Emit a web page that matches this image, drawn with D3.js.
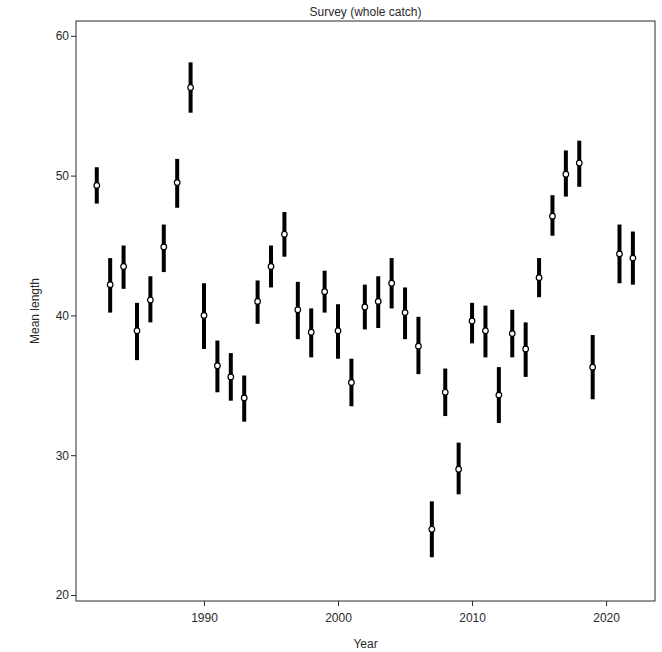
<!DOCTYPE html>
<html>
<head>
<meta charset="utf-8">
<script src="https://cdn.jsdelivr.net/npm/d3@7"></script>
<style>
  body { margin: 0; background: #fff; }
  text { font-family: "Liberation Sans", Arial, sans-serif; }
</style>
</head>
<body>
<script>
// survey mean length per year, with interval
const years = [1982,1983,1984,1985,1986,1987,1988,1989,1990,1991,1992,1993,1994,1995,1996,1997,1998,1999,2000,2001,2002,2003,2004,2005,2006,2007,2008,2009,2010,2011,2012,2013,2014,2015,2016,2017,2018,2019,2021,2022];
const means = [49.3,42.2,43.5,38.9,41.1,44.9,49.5,56.3,40.0,36.4,35.6,34.1,41.0,43.5,45.8,40.4,38.8,41.7,38.9,35.2,40.6,41.0,42.3,40.2,37.8,24.7,34.5,29.0,39.6,38.9,34.3,38.7,37.6,42.7,47.1,50.1,50.9,36.3,44.4,44.1];
const lows  = [48.0,40.2,41.9,36.8,39.5,43.1,47.7,54.5,37.6,34.5,33.9,32.4,39.4,42.0,44.2,38.3,37.0,40.2,36.9,33.5,39.0,39.1,40.5,38.3,35.8,22.7,32.8,27.2,38.0,37.0,32.3,37.0,35.6,41.3,45.7,48.5,49.2,34.0,42.3,42.2];
const highs = [50.6,44.1,45.0,40.9,42.8,46.5,51.2,58.1,42.3,38.2,37.3,35.7,42.5,45.0,47.4,42.4,40.5,43.2,40.8,36.9,42.2,42.8,44.1,42.0,39.9,26.7,36.2,30.9,40.9,40.7,36.3,40.4,39.5,44.1,48.6,51.8,52.5,38.6,46.5,46.0];
const yTicks = [20,30,40,50,60];
const xTicks = [1990,2000,2010,2020];

const WIDTH = 662, HEIGHT = 652;
const LEFT = 76, RIGHT = 655, TOP = 21, BOTTOM = 601;
const INK = "#2a2a2a";

const data = years.map((y, i) => ({year: y, mean: means[i], lo: lows[i], hi: highs[i]}));

const svg = d3.select("body").append("svg")
  .attr("width", WIDTH)
  .attr("height", HEIGHT);

const xScale = d3.scaleLinear().domain([1980.45, 2023.65]).range([LEFT, RIGHT]);
const yScale = d3.scaleLinear().domain([19.57, 61.06]).range([BOTTOM, TOP]);

// frame
svg.append("rect")
  .attr("x", LEFT).attr("y", TOP)
  .attr("width", RIGHT - LEFT).attr("height", BOTTOM - TOP)
  .attr("fill", "none").attr("stroke", INK).attr("stroke-width", 1);

const yAxis = svg.append("g")
  .attr("transform", `translate(${LEFT},0)`)
  .call(d3.axisLeft(yScale).tickValues(yTicks).tickSize(5).tickPadding(2));
const xAxis = svg.append("g")
  .attr("transform", `translate(0,${BOTTOM})`)
  .call(d3.axisBottom(xScale).tickValues(xTicks).tickFormat(d3.format("d")).tickSize(5).tickPadding(7));

[xAxis, yAxis].forEach(g => {
  g.select(".domain").remove();
  g.selectAll("line").attr("stroke", INK);
  g.selectAll("text").attr("fill", INK).style("font-size", "12px");
});

// error bars
svg.selectAll(".bar")
  .data(data)
  .join("line")
  .attr("class", "bar")
  .attr("x1", d => xScale(d.year)).attr("x2", d => xScale(d.year))
  .attr("y1", d => yScale(d.lo)).attr("y2", d => yScale(d.hi))
  .attr("stroke", "#000").attr("stroke-width", 4);

svg.selectAll(".pt")
  .data(data)
  .join("circle")
  .attr("class", "pt")
  .attr("cx", d => xScale(d.year))
  .attr("cy", d => yScale(d.mean))
  .attr("r", 2.8)
  .attr("fill", "#fff").attr("stroke", "#000").attr("stroke-width", 1.2);

// labels
svg.append("text")
  .attr("x", (LEFT + RIGHT) / 2).attr("y", 16)
  .attr("text-anchor", "middle").attr("fill", INK)
  .style("font-size", "12px")
  .text("Survey (whole catch)");

svg.append("text")
  .attr("x", (LEFT + RIGHT) / 2).attr("y", 648)
  .attr("text-anchor", "middle").attr("fill", INK)
  .style("font-size", "12px")
  .text("Year");

svg.append("text")
  .attr("transform", `translate(39,${(TOP + BOTTOM) / 2}) rotate(-90)`)
  .attr("text-anchor", "middle").attr("fill", INK)
  .style("font-size", "12px")
  .text("Mean length");
</script>
</body>
</html>
